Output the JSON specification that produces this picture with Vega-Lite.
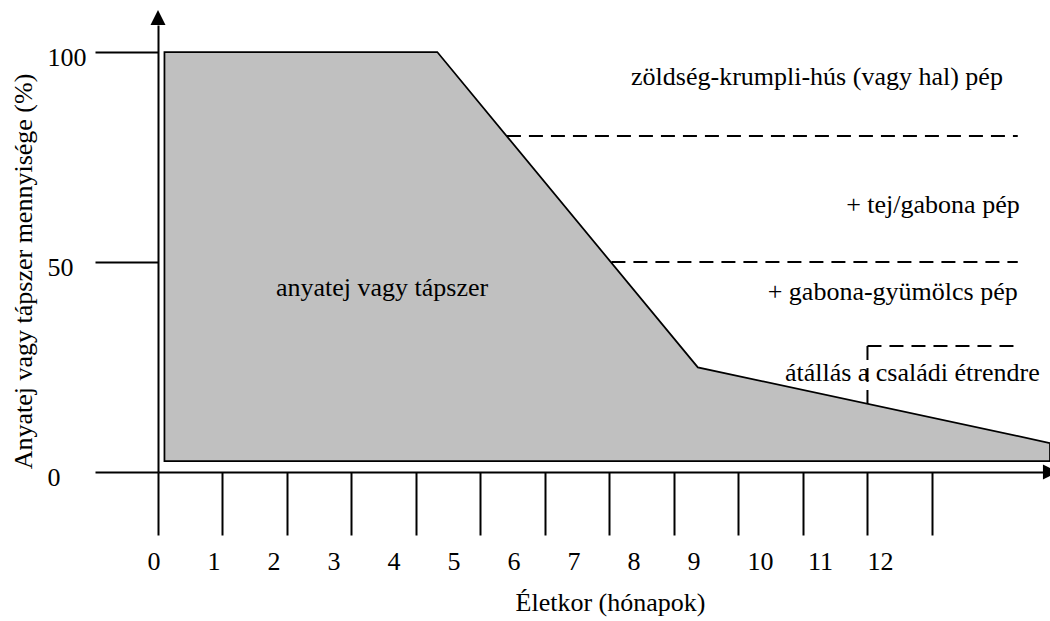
{
  "$schema": "https://vega.github.io/schema/vega-lite/v6.json",
  "autosize": {"type": "none"},
  "padding": {"left": 158, "top": 25, "right": 0, "bottom": 149},
  "width": 892,
  "height": 447,
  "background": "white",
  "config": {
    "view": {"stroke": null},
    "font": "Liberation Serif",
    "text": {"font": "Liberation Serif", "fontSize": 26, "color": "black"}
  },
  "datasets": {
    "feeding": [
      {"month": 0.1, "pct": 100, "base": 2.6},
      {"month": 4.33, "pct": 100, "base": 2.6},
      {"month": 8.37, "pct": 24.9, "base": 2.6},
      {"month": 13.83, "pct": 6.9, "base": 2.6}
    ],
    "dividers": [
      {"month": 5.41, "month2": 13.33, "pct": 80, "pct2": 80},
      {"month": 7.03, "month2": 13.33, "pct": 50, "pct2": 50},
      {"month": 11.0, "month2": 13.33, "pct": 30, "pct2": 30},
      {"month": 11.0, "month2": 11.0, "pct": 30, "pct2": 15.2}
    ],
    "arrows": [
      {"dir": "up", "month": 0, "pct": 108.2},
      {"dir": "right", "month": 13.837, "pct": 0}
    ],
    "ticklabels": [
      {"label": "0", "month": -0.062, "pct": -23.4},
      {"label": "1", "month": 0.868, "pct": -23.4},
      {"label": "2", "month": 1.798, "pct": -23.4},
      {"label": "3", "month": 2.729, "pct": -23.4},
      {"label": "4", "month": 3.659, "pct": -23.4},
      {"label": "5", "month": 4.589, "pct": -23.4},
      {"label": "6", "month": 5.519, "pct": -23.4},
      {"label": "7", "month": 6.45, "pct": -23.4},
      {"label": "8", "month": 7.38, "pct": -23.4},
      {"label": "9", "month": 8.31, "pct": -23.4},
      {"label": "10", "month": 9.341, "pct": -23.4},
      {"label": "11", "month": 10.271, "pct": -23.4},
      {"label": "12", "month": 11.202, "pct": -23.4}
    ],
    "notes": [
      {"text": "zöldség-krumpli-hús (vagy hal) pép", "month": 13.1, "pct": 92.2},
      {"text": "+ tej/gabona pép", "month": 13.36, "pct": 61.6},
      {"text": "+ gabona-gyümölcs pép", "month": 13.33, "pct": 40.9},
      {"text": "átállás a családi étrendre", "month": 13.67, "pct": 21.6},
      {"text": "anyatej vagy tápszer", "month": 5.12, "pct": 41.8}
    ]
  },
  "layer": [
    {
      "data": {"name": "feeding"},
      "mark": {"type": "area", "fill": "#c0c0c0", "stroke": "black", "strokeWidth": 1.75, "strokeJoin": "miter", "clip": false},
      "encoding": {
        "x": {
          "field": "month", "type": "quantitative",
          "scale": {"domain": [0, 13.83], "nice": false, "zero": false},
          "axis": {
            "values": [0, 1, 2, 3, 4, 5, 6, 7, 8, 9, 10, 11, 12],
            "labels": false, "grid": false,
            "tickSize": 63, "tickWidth": 2, "tickColor": "black",
            "domain": true, "domainWidth": 2, "domainColor": "black",
            "title": "Életkor (hónapok)",
            "titleFont": "Liberation Serif", "titleFontSize": 26, "titleFontWeight": "normal", "titleColor": "black",
            "titleX": 452, "titleY": 138.7, "titleAlign": "center", "titleBaseline": "alphabetic", "titleAngle": 0
          }
        },
        "y": {
          "field": "pct", "type": "quantitative",
          "scale": {"domain": [0, 106.43], "nice": false, "zero": false},
          "axis": {
            "values": [0, 50, 100],
            "grid": false,
            "tickSize": 63, "tickWidth": 2, "tickColor": "black",
            "domain": true, "domainWidth": 2, "domainColor": "black",
            "labelFont": "Liberation Serif", "labelFontSize": 26, "labelColor": "black",
            "labelAlign": "left", "labelBaseline": "alphabetic", "labelPadding": 48, "labelOffset": 13.5,
            "labelFlush": false, "labelOverlap": false,
            "title": "Anyatej vagy tápszer mennyisége (%)",
            "titleFont": "Liberation Serif", "titleFontSize": 26, "titleFontWeight": "normal", "titleColor": "black",
            "titleX": -126.5, "titleY": 246, "titleAngle": -90, "titleAlign": "center", "titleBaseline": "alphabetic"
          }
        },
        "y2": {"field": "base"}
      }
    },
    {
      "data": {"name": "dividers"},
      "mark": {"type": "rule", "stroke": "black", "strokeWidth": 2, "strokeDash": [14, 8], "clip": false},
      "encoding": {
        "x": {"field": "month", "type": "quantitative"},
        "x2": {"field": "month2"},
        "y": {"field": "pct", "type": "quantitative"},
        "y2": {"field": "pct2"}
      }
    },
    {
      "data": {"name": "arrows"},
      "mark": {"type": "point", "filled": true, "color": "black", "size": 225, "opacity": 1, "clip": false},
      "encoding": {
        "x": {"field": "month", "type": "quantitative"},
        "y": {"field": "pct", "type": "quantitative"},
        "shape": {
          "field": "dir", "type": "nominal",
          "scale": {"domain": ["up", "right"], "range": ["M0,-1L1,1L-1,1Z", "M1,0L-1,-1L-1,1Z"]},
          "legend": null
        }
      }
    },
    {
      "data": {"name": "ticklabels"},
      "mark": {"type": "text", "align": "center", "baseline": "alphabetic", "clip": false},
      "encoding": {
        "x": {"field": "month", "type": "quantitative"},
        "y": {"field": "pct", "type": "quantitative"},
        "text": {"field": "label"}
      }
    },
    {
      "data": {"name": "notes"},
      "mark": {"type": "text", "align": "right", "baseline": "alphabetic", "clip": false},
      "encoding": {
        "x": {"field": "month", "type": "quantitative"},
        "y": {"field": "pct", "type": "quantitative"},
        "text": {"field": "text"}
      }
    }
  ]
}
